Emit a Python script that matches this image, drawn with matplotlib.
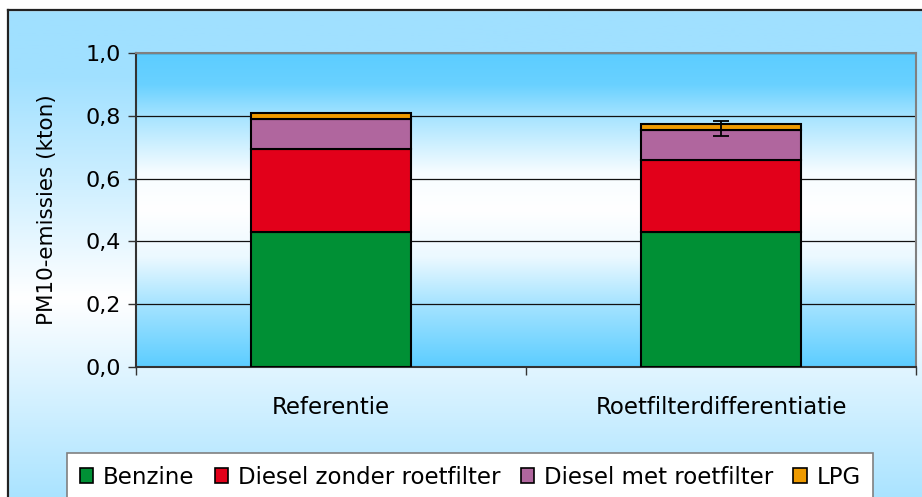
import numpy as np
import matplotlib.pyplot as plt
from matplotlib.patches import Rectangle, Patch
from matplotlib.colors import to_rgb

categories = ['Referentie', 'Roetfilterdifferentiatie']
benzine = [0.43, 0.43]
diesel_zonder = [0.265, 0.229]
diesel_met = [0.096, 0.096]
lpg = [0.018, 0.018]
err_value = [None, 0.76]
err_size = [None, 0.024]

series = ['Benzine', 'Diesel zonder roetfilter', 'Diesel met roetfilter', 'LPG']
colors = ['#009035', '#E2001A', '#B0669E', '#EE9A00']

plt.rcParams['font.family'] = 'DejaVu Sans'

W, H = 922, 497
fig = plt.figure(figsize=(W / 100, H / 100), dpi=100)

# outer background gradient (light blue - white - light blue)
bg = fig.add_axes([0, 0, 1, 1], zorder=-10)
blue_out = np.array(to_rgb('#A0E0FF'))
white = np.array([1.0, 1.0, 1.0])
yy = np.linspace(0, 1, 300)
w = np.clip(np.abs(yy - 0.40) / 0.45, 0, 1)
grad = white[None, :] * (1 - w[:, None]) + blue_out[None, :] * w[:, None]
bg.imshow(grad[:, None, :], aspect='auto', extent=[0, 1, 0, 1], origin='lower')
bg.set_xlim(0, 1)
bg.set_ylim(0, 1)
bg.axis('off')
# white margin and frame of the chart (the frame continues outside the crop)
bg.add_patch(Rectangle((0, 1 - 10 / H), 1, 10 / H, color='white', zorder=5))
bg.add_patch(Rectangle((0, 0), 8 / W, 1, color='white', zorder=5))
bg.plot([8 / W, 8 / W], [0, 1 - 10 / H], color='#222222', lw=1.6, zorder=6)
bg.plot([8 / W, 1], [1 - 10 / H, 1 - 10 / H], color='#222222', lw=1.6, zorder=6)

ax = fig.add_axes([136 / W, 1 - 367 / H, 780 / W, 314 / H])

# plot area gradient
blue_in = np.array(to_rgb('#5CCDFF'))
t = np.linspace(0, 1, 400)
wt = np.interp(t, [0, 0.2, 0.35, 0.5, 0.62, 0.8, 0.9, 1.0],
               [1.0, 0.55, 0.12, 0.0, 0.05, 0.55, 0.92, 1.0])
g2 = white[None, :] * (1 - wt[:, None]) + blue_in[None, :] * wt[:, None]
ax.imshow(g2[:, None, :], aspect='auto', extent=[-0.5, 1.5, 0, 1],
          origin='lower', zorder=0)

x = np.arange(len(categories))
bottom = np.zeros(len(categories))
for name, vals, c in zip(series, [benzine, diesel_zonder, diesel_met, lpg], colors):
    ax.bar(x, vals, width=0.41, bottom=bottom, color=c, edgecolor='black',
           linewidth=1.5, zorder=3, label=name)
    bottom += np.array(vals)

for i, (v, e) in enumerate(zip(err_value, err_size)):
    if v is not None:
        ax.errorbar(x[i], v, yerr=e, fmt='none', ecolor='black', elinewidth=1.3,
                    capsize=5.5, capthick=1.3, zorder=4)

ax.set_xlim(-0.5, 1.5)
ax.set_ylim(0, 1.0)
ax.set_yticks([0, 0.2, 0.4, 0.6, 0.8, 1.0])
ax.set_yticklabels(['0,0', '0,2', '0,4', '0,6', '0,8', '1,0'], fontsize=16)
ax.yaxis.grid(True, color='#111111', linewidth=0.9, zorder=1)
ax.set_axisbelow(True)
ax.tick_params(axis='y', length=6, width=1, direction='out', pad=5, color='#333333')

ax.set_xticks(x)
ax.set_xticklabels(categories, fontsize=16.5)
ax.tick_params(axis='x', which='major', length=0, pad=21)
ax.set_xticks([-0.5, 0.5, 1.5], minor=True)
ax.tick_params(axis='x', which='minor', length=6, width=1, direction='out', color='#333333')

ax.set_ylabel('PM10-emissies (kton)', fontsize=15.5, labelpad=20)

for s in ['top', 'right']:
    ax.spines[s].set_color('#808080')
    ax.spines[s].set_linewidth(1.5)
for s in ['left', 'bottom']:
    ax.spines[s].set_color('#333333')
    ax.spines[s].set_linewidth(1.5)

handles = [Patch(facecolor=c, edgecolor='black', linewidth=1.2) for c in colors]
leg = fig.legend(handles, series, loc='upper left',
                 bbox_to_anchor=(67 / W, 1 - 453 / H), ncol=4, fontsize=16.5,
                 frameon=True, fancybox=False, handlelength=0.6, handleheight=0.6,
                 handletextpad=0.4, columnspacing=0.9, borderpad=0.55,
                 borderaxespad=0)
leg.get_frame().set_edgecolor('#808080')
leg.get_frame().set_linewidth(1.2)
leg.get_frame().set_facecolor('white')
leg.get_frame().set_alpha(1)

fig.savefig('out.png', dpi=100)
